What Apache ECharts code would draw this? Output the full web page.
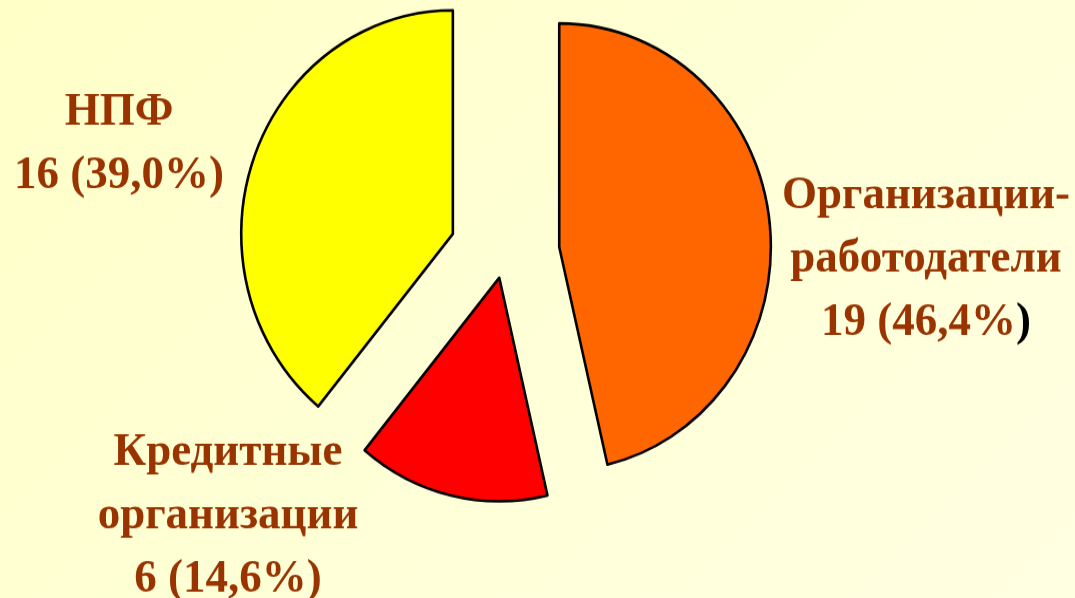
<!doctype html>
<html lang="ru">
<head>
    <meta charset="UTF-8">
    <title>Pie</title>
    <style>
        *{
            margin:0;
            padding:0;
        }
        html,body {
            width:100%;
            height:100%;
            overflow:hidden;
            background: linear-gradient(135deg, #ffffc8 0%, #ffffd8 55%, #ffffe2 100%);
        }
        #main{
            width:1075px;
            height:566px;
            transform: scaleY(1.0565);
            transform-origin: 0 0;
        }
    </style>
</head>
<body>

<div id="main"></div>
<script src="https://cdn.jsdelivr.net/npm/echarts@6/dist/echarts.min.js"></script>
<script>

    // data
    var names = ['Организации-\nработодатели', 'Кредитные\nорганизации', 'НПФ'];
    var values = [19, 6, 16];
    var shares = ['46,4%', '14,6%', '39,0%'];

    // look
    var colors = ['#ff6600', '#ff0000', '#ffff00'];
    var explode = [55, 23.5, 55];
    var labelPos = [[926, 245.5], [228, 488], [119, 136.5]];
    var baseCenter = [504.6, 240];
    var radius = 211.6;

    var myChart = echarts.init(document.getElementById('main'));

    var total = values.reduce(function (a, b) { return a + b; }, 0);

    var series = [];
    var acc = 0;
    values.forEach(function (v, i) {
        var startDeg = 90 - acc / total * 360;
        var midDeg = startDeg - v / total * 180;
        acc += v;
        var rad = midDeg * Math.PI / 180;
        var cx = baseCenter[0] + Math.cos(rad) * explode[i];
        var cy = baseCenter[1] - Math.sin(rad) * explode[i];

        var data = values.map(function (val, j) {
            var item = {
                name: names[j],
                value: val
            };
            if (j === i) {
                item.itemStyle = {
                    color: colors[j],
                    borderColor: '#000',
                    borderWidth: 2.6
                };
                item.label = {show: true};
            } else {
                item.itemStyle = {color: 'transparent', borderWidth: 0};
                item.label = {show: false};
            }
            return item;
        });

        series.push({
            type: 'pie',
            center: [cx, cy],
            radius: [0, radius],
            startAngle: 90,
            clockwise: true,
            silent: true,
            avoidLabelOverlap: false,
            labelLine: {show: false},
            label: {
                position: 'outside',
                formatter: function (p) {
                    var tail = p.dataIndex === 0 ? '{k|)}' : ')';
                    return p.name + '\n' + p.value + ' (' + shares[p.dataIndex] + tail;
                },
                fontFamily: '"Liberation Serif", "Times New Roman", serif',
                fontWeight: 'bold',
                fontSize: 45,
                lineHeight: 60,
                color: '#993300',
                align: 'center',
                rich: {
                    k: {
                        color: '#000',
                        fontFamily: '"Liberation Serif", "Times New Roman", serif',
                        fontWeight: 'bold',
                        fontSize: 45,
                        lineHeight: 60
                    }
                }
            },
            labelLayout: function (params) {
                var p = labelPos[params.dataIndex];
                return {
                    x: p[0],
                    y: p[1],
                    align: 'center',
                    verticalAlign: 'middle'
                };
            },
            data: data
        });
    });

    myChart.setOption({
        animation: false,
        backgroundColor: 'transparent',
        series: series
    });

</script>
</body>
</html>
